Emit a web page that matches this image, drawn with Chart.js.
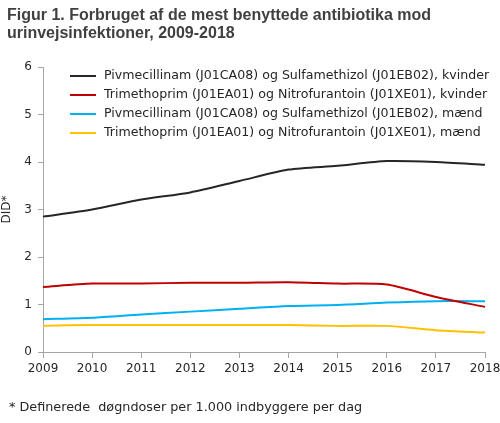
<!DOCTYPE html>
<html>
<head>
<meta charset="utf-8">
<script src="https://cdn.jsdelivr.net/npm/chart.js@4"></script>
<style>
  body { margin: 0; background: #fff; }
  #wrap { width: 500px; height: 423px; position: relative; }
</style>
</head>
<body>
<div id="wrap"><canvas id="chart"></canvas></div>
<script>
const years = ["2009", "2010", "2011", "2012", "2013", "2014", "2015", "2016", "2017", "2018"];
const pivKvinder = [2.85, 3.0, 3.21, 3.36, 3.6, 3.84, 3.92, 4.02, 4.0, 3.94];
const triKvinder = [1.37, 1.44, 1.44, 1.46, 1.46, 1.47, 1.44, 1.42, 1.16, 0.95];
const pivMaend = [0.69, 0.72, 0.79, 0.85, 0.91, 0.97, 0.99, 1.04, 1.07, 1.07];
const triMaend = [0.55, 0.57, 0.57, 0.57, 0.57, 0.57, 0.55, 0.55, 0.46, 0.41];
const seriesNames = [
    "Pivmecillinam (J01CA08) og Sulfamethizol (J01EB02), kvinder",
    "Trimethoprim (J01EA01) og Nitrofurantoin (J01XE01), kvinder",
    "Pivmecillinam (J01CA08) og Sulfamethizol (J01EB02), mænd",
    "Trimethoprim (J01EA01) og Nitrofurantoin (J01XE01), mænd"
];
const colors = ["#262626", "#c00000", "#00b0f0", "#ffc000"];
const titleLines = ["Figur 1. Forbruget af de mest benyttede antibiotika mod", "urinvejsinfektioner, 2009-2018"];
const footnote = "* Definerede  døgndoser per 1.000 indbyggere per dag";

const FONT = "'DejaVu Sans', sans-serif";

// title, legend and footnote are painted straight on the canvas
const extras = {
    id: "extras",
    afterDraw(chart) {
        const ctx = chart.ctx;
        const area = chart.chartArea;
        ctx.save();
        ctx.textBaseline = "alphabetic";
        ctx.fillStyle = "#404040";
        ctx.font = "bold 16px 'Liberation Sans', sans-serif";
        ctx.fillText(titleLines[0], 7, 20);
        ctx.fillText(titleLines[1], 7, 38);

        ctx.font = "12.6px " + FONT;
        ctx.fillStyle = "#262626";
        seriesNames.forEach((name, i) => {
            const y = 76 + i * 19;
            ctx.strokeStyle = colors[i];
            ctx.lineWidth = 2;
            ctx.beginPath();
            ctx.moveTo(area.left + 27, y);
            ctx.lineTo(area.left + 53, y);
            ctx.stroke();
            ctx.textBaseline = "middle";
            ctx.fillText(name, area.left + 61, y);
        });

        ctx.textBaseline = "alphabetic";
        ctx.font = "12.8px " + FONT;
        ctx.fillText(footnote, 9, 411);
        ctx.restore();
    }
};

const mkSet = (label, data, color) => ({
    label: label,
    data: data,
    borderColor: color,
    backgroundColor: color,
    borderWidth: 2,
    pointRadius: 0,
    tension: 0.25,
    fill: false
});

new Chart(document.getElementById("chart"), {
    type: "line",
    data: {
        labels: years,
        datasets: [
            mkSet(seriesNames[0], pivKvinder, colors[0]),
            mkSet(seriesNames[1], triKvinder, colors[1]),
            mkSet(seriesNames[2], pivMaend, colors[2]),
            mkSet(seriesNames[3], triMaend, colors[3])
        ]
    },
    options: {
        responsive: true,
        maintainAspectRatio: false,
        animation: false,
        layout: { padding: { top: 67, right: 15, left: 0, bottom: 0 } },
        plugins: {
            legend: { display: false },
            tooltip: { enabled: false }
        },
        scales: {
            x: {
                offset: false,
                afterFit: s => { s.height = 71; s.paddingRight = 0; s.paddingLeft = 0; },
                grid: { drawOnChartArea: false, drawTicks: true, tickLength: 6, color: "#a6a6a6" },
                border: { color: "#a6a6a6" },
                ticks: { color: "#262626", font: { family: FONT, size: 12 }, maxRotation: 0, autoSkip: false, padding: 4 }
            },
            y: {
                min: 0,
                max: 6,
                afterFit: s => { s.width = 43; },
                grid: { drawOnChartArea: false, drawTicks: true, tickLength: 5, color: "#a6a6a6" },
                border: { color: "#a6a6a6" },
                ticks: { stepSize: 1, color: "#262626", font: { family: FONT, size: 12 }, padding: 6 },
                title: { display: true, text: "DID*", color: "#262626", font: { family: FONT, size: 12 }, padding: 0 }
            }
        }
    },
    plugins: [extras]
});
</script>
</body>
</html>
